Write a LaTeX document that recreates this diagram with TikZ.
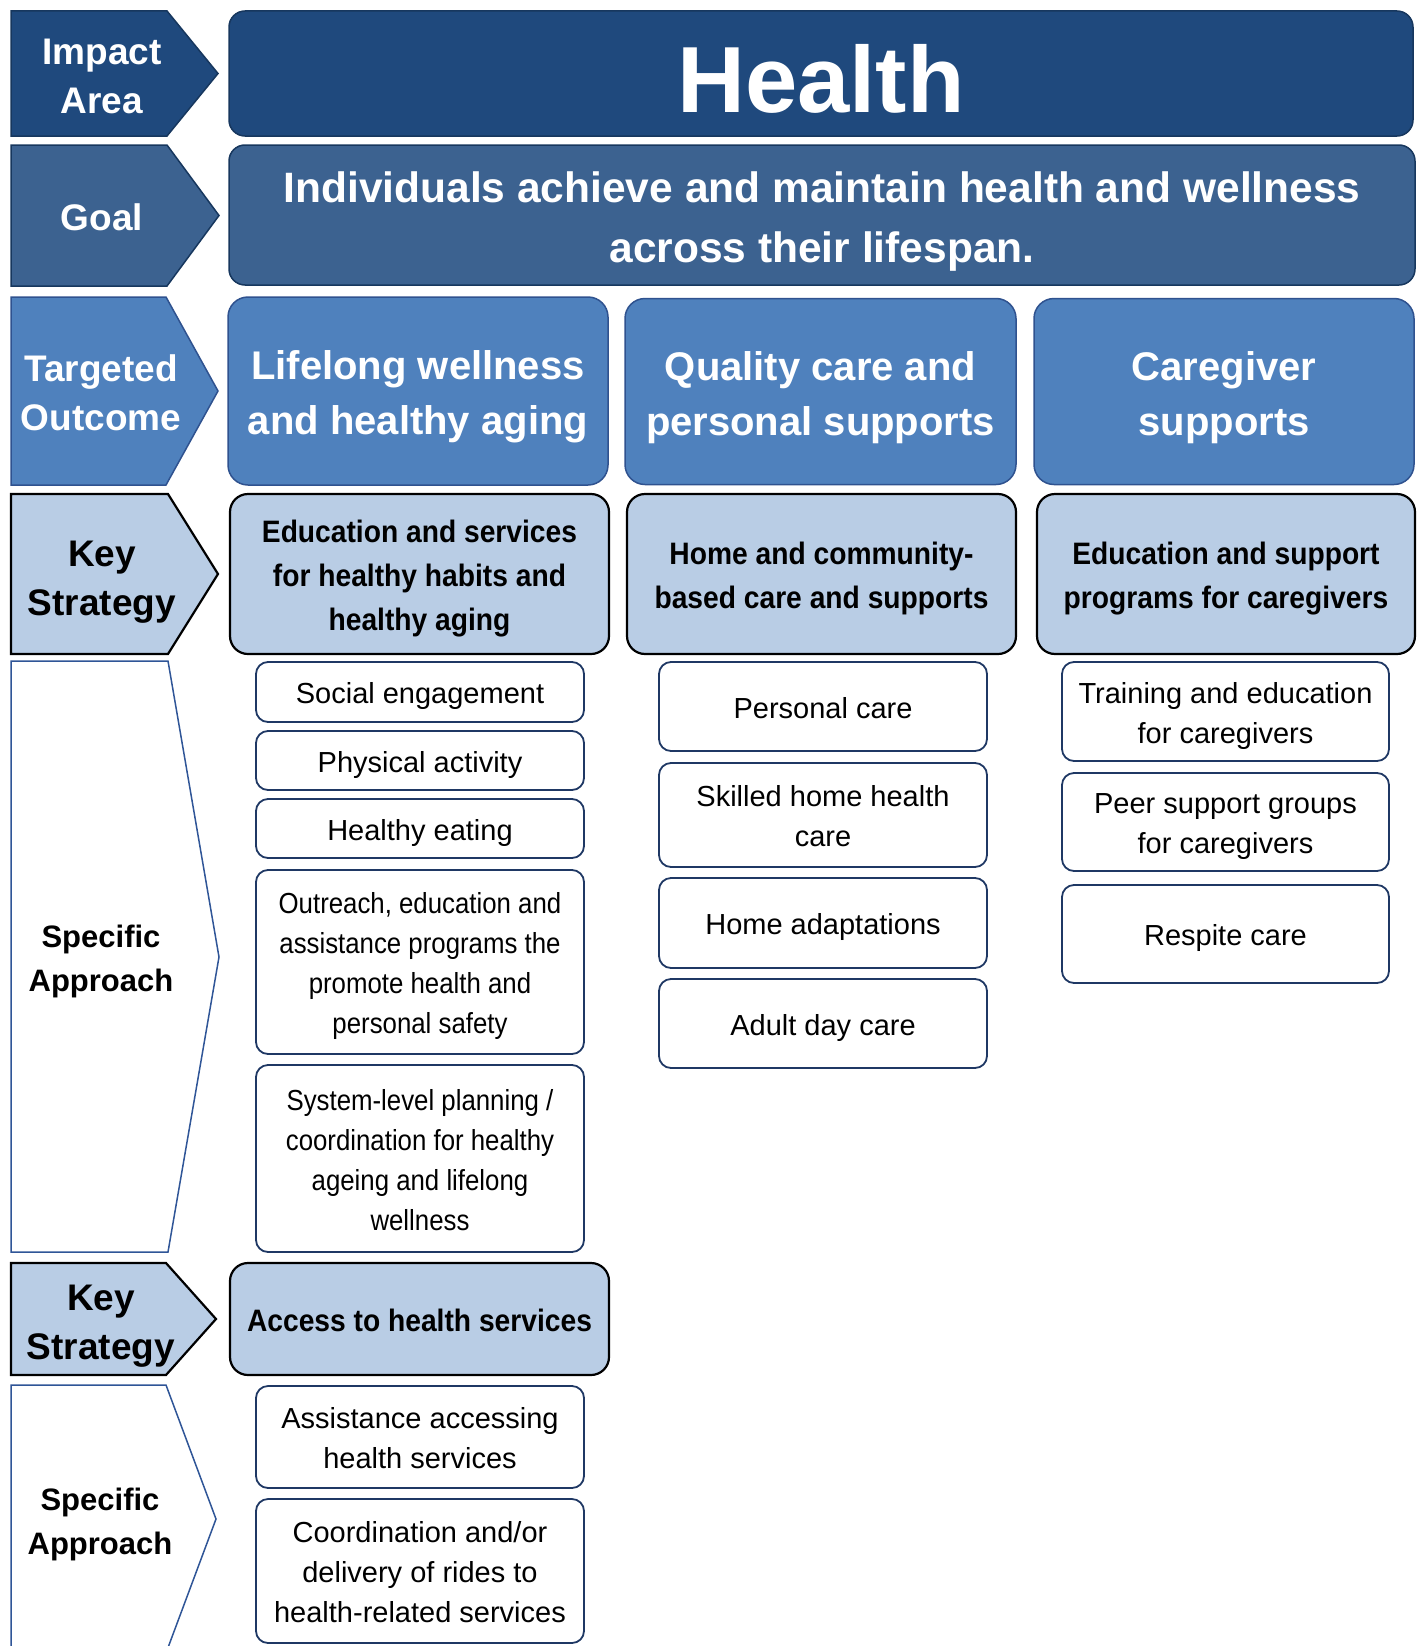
\documentclass[tikz,border=0pt]{standalone}
\usepackage{fontspec}
\setmainfont{Liberation Sans}
\newfontfamily\narrowfont[FakeStretch=0.91]{Liberation Sans}
\newfontfamily\squeezefont[FakeStretch=0.89]{Liberation Sans}
\definecolor{impactblue}{HTML}{1F497D}
\definecolor{goalblue}{HTML}{3C6290}
\definecolor{outcomeblue}{HTML}{4F81BD}
\definecolor{strategyblue}{HTML}{B9CDE5}
\definecolor{darkline}{HTML}{17375E}
\definecolor{midline}{HTML}{2F528F}
\definecolor{approachline}{HTML}{1F3864}
\definecolor{specline}{HTML}{2F5597}
% line struts, so that text sits in its box as in the slide
\newcommand{\linetop}{\rule{0pt}{1.04em}}
\newcommand{\linebot}{\rule[-0.22em]{0pt}{0pt}}

\begin{document}
\begin{tikzpicture}
	[x=1pt,y=-1pt,
	 every node/.style={execute at begin node=\linetop,execute at end node=\linebot},
	 impactarrow/.style={fill=impactblue,draw=darkline,line width=1.5pt},
	 goalarrow/.style={fill=goalblue,draw=darkline,line width=1.5pt},
	 outcomearrow/.style={fill=outcomeblue,draw=midline,line width=1.5pt},
	 strategyarrow/.style={fill=strategyblue,draw=black,line width=2.2pt},
	 specarrow/.style={fill=white,draw=specline,line width=1.5pt},
	 lbltext/.style={align=flush center,text width=200pt,font=\fontsize{37}{49}\selectfont\bfseries},
	 spectext/.style={align=flush center,text width=200pt,font=\fontsize{31}{44}\selectfont\bfseries},
	 topbox/.style={draw=darkline,line width=1.5pt,rounded corners=16pt,text=white,align=flush center,inner sep=0pt},
	 outcomebox/.style={fill=outcomeblue,draw=midline,line width=1.5pt,rounded corners=20pt,text=white,align=flush center,
	   inner sep=0pt,text width=370pt,minimum height=186pt,font=\fontsize{40}{55}\selectfont\bfseries},
	 strategybox/.style={fill=strategyblue,draw=black,line width=2.2pt,rounded corners=18pt,align=flush center,
	   inner sep=0pt,text width=370pt,font=\narrowfont\bfseries\fontsize{31}{44}\selectfont},
	 approachbox/.style={fill=white,draw=approachline,line width=1.8pt,rounded corners=12pt,align=flush center,
	   inner sep=0pt,text width=320pt,minimum width=328pt,font=\fontsize{29}{40}\selectfont},
	 narrowbox/.style={approachbox,font=\squeezefont\fontsize{29}{40}\selectfont}]
\useasboundingbox (0,0) rectangle (1420,1646);
\clip (0,0) rectangle (1420,1646);

% left hand labels
\draw[impactarrow] (11,11) -- (167,11) -- (218,73.5) -- (167,136) -- (11,136) -- cycle;
\node[lbltext,text=white] (impact) at (102,73.5) {Impact\\Area};
\draw[goalarrow] (11,145) -- (167,145) -- (219,215.5) -- (167,286) -- (11,286) -- cycle;
\node[lbltext,text=white] (goal) at (102,215.5) {Goal};
\draw[outcomearrow] (11,297) -- (166,297) -- (218,391) -- (166,485) -- (11,485) -- cycle;
\node[lbltext,text=white] (outcome) at (101,391) {Targeted\\Outcome};
\draw[strategyarrow] (11,494) -- (168,494) -- (218,574) -- (168,654) -- (11,654) -- cycle;
\node[lbltext] (strategy) at (102,576) {Key\\Strategy};
\draw[specarrow] (11,661) -- (168,661) -- (219,957) -- (168,1252) -- (11,1252) -- cycle;
\node[spectext] (approach) at (101,957) {Specific\\Approach};
\draw[strategyarrow] (11,1263) -- (166,1263) -- (216,1319) -- (166,1375) -- (11,1375) -- cycle;
\node[lbltext] (strategyb) at (101,1320) {Key\\Strategy};
\draw[specarrow] (11,1385) -- (166,1385) -- (216,1519) -- (166,1653) -- (11,1653) -- cycle;
\node[spectext] (approachb) at (100,1520) {Specific\\Approach};

% impact area and goal
\node[topbox,fill=impactblue,minimum width=1184pt,minimum height=125pt,
	font=\fontsize{94}{100}\selectfont\bfseries] (health) at (821,73.5) {Health};
\node[topbox,fill=goalblue,text width=1150pt,minimum width=1186pt,minimum height=140pt,
	font=\fontsize{42.5}{60}\selectfont\bfseries] (goaltext) at (822,215)
	{Individuals achieve and maintain health and wellness\\across their lifespan.};

% targeted outcomes
\node[outcomebox,minimum width=380pt,minimum height=188pt] (wellness) at (418,391) {Lifelong wellness\\and healthy aging};
\node[outcomebox,minimum width=391pt] (quality) at (820.5,391.5) {Quality care and\\personal supports};
\node[outcomebox,minimum width=380pt] (caregiver) at (1224,391.5) {Caregiver\\supports};

% key strategies
\node[strategybox,minimum width=379pt,minimum height=160pt] (habits) at (419.5,574) {Education and services\\for healthy habits and\\healthy aging};
\node[strategybox,minimum width=389pt,minimum height=160pt] (community) at (821.5,574) {Home and community-\\based care and supports};
\node[strategybox,minimum width=378pt,minimum height=160pt] (programs) at (1226,574) {Education and support\\programs for caregivers};
\node[strategybox,minimum width=379pt,minimum height=112pt] (access) at (419.5,1319) {Access to health services};

% specific approaches, first column
\node[approachbox,minimum height=60pt] (social) at (420,692) {Social engagement};
\node[approachbox,minimum height=59pt] (physical) at (420,760.5) {Physical activity};
\node[approachbox,minimum height=59pt] (eating) at (420,828.5) {Healthy eating};
\node[narrowbox,minimum height=184pt] (outreach) at (420,962) {Outreach, education and\\assistance programs the\\promote health and\\personal safety};
\node[narrowbox,minimum height=187pt] (planning) at (420,1158.5) {System-level planning /\\coordination for healthy\\ageing and lifelong\\wellness};

% specific approaches, second column
\node[approachbox,minimum height=89pt] (personal) at (823,706.5) {Personal care};
\node[approachbox,minimum height=104pt] (skilled) at (823,815) {Skilled home health\\care};
\node[approachbox,minimum height=90pt] (adapt) at (823,923) {Home adaptations};
\node[approachbox,minimum height=89pt] (adult) at (823,1023.5) {Adult day care};

% specific approaches, third column
\node[approachbox,minimum width=327pt,minimum height=99pt] (training) at (1225.5,711.5) {Training and education\\for caregivers};
\node[approachbox,minimum width=327pt,minimum height=98pt] (peer) at (1225.5,822) {Peer support groups\\for caregivers};
\node[approachbox,minimum width=327pt,minimum height=98pt] (respite) at (1225.5,934) {Respite care};

% specific approaches, access
\node[approachbox,minimum height=102pt] (assist) at (420,1437) {Assistance accessing\\health services};
\node[approachbox,minimum height=144pt] (rides) at (420,1571) {Coordination and/or\\delivery of rides to\\health-related services};
\end{tikzpicture}
\end{document}
